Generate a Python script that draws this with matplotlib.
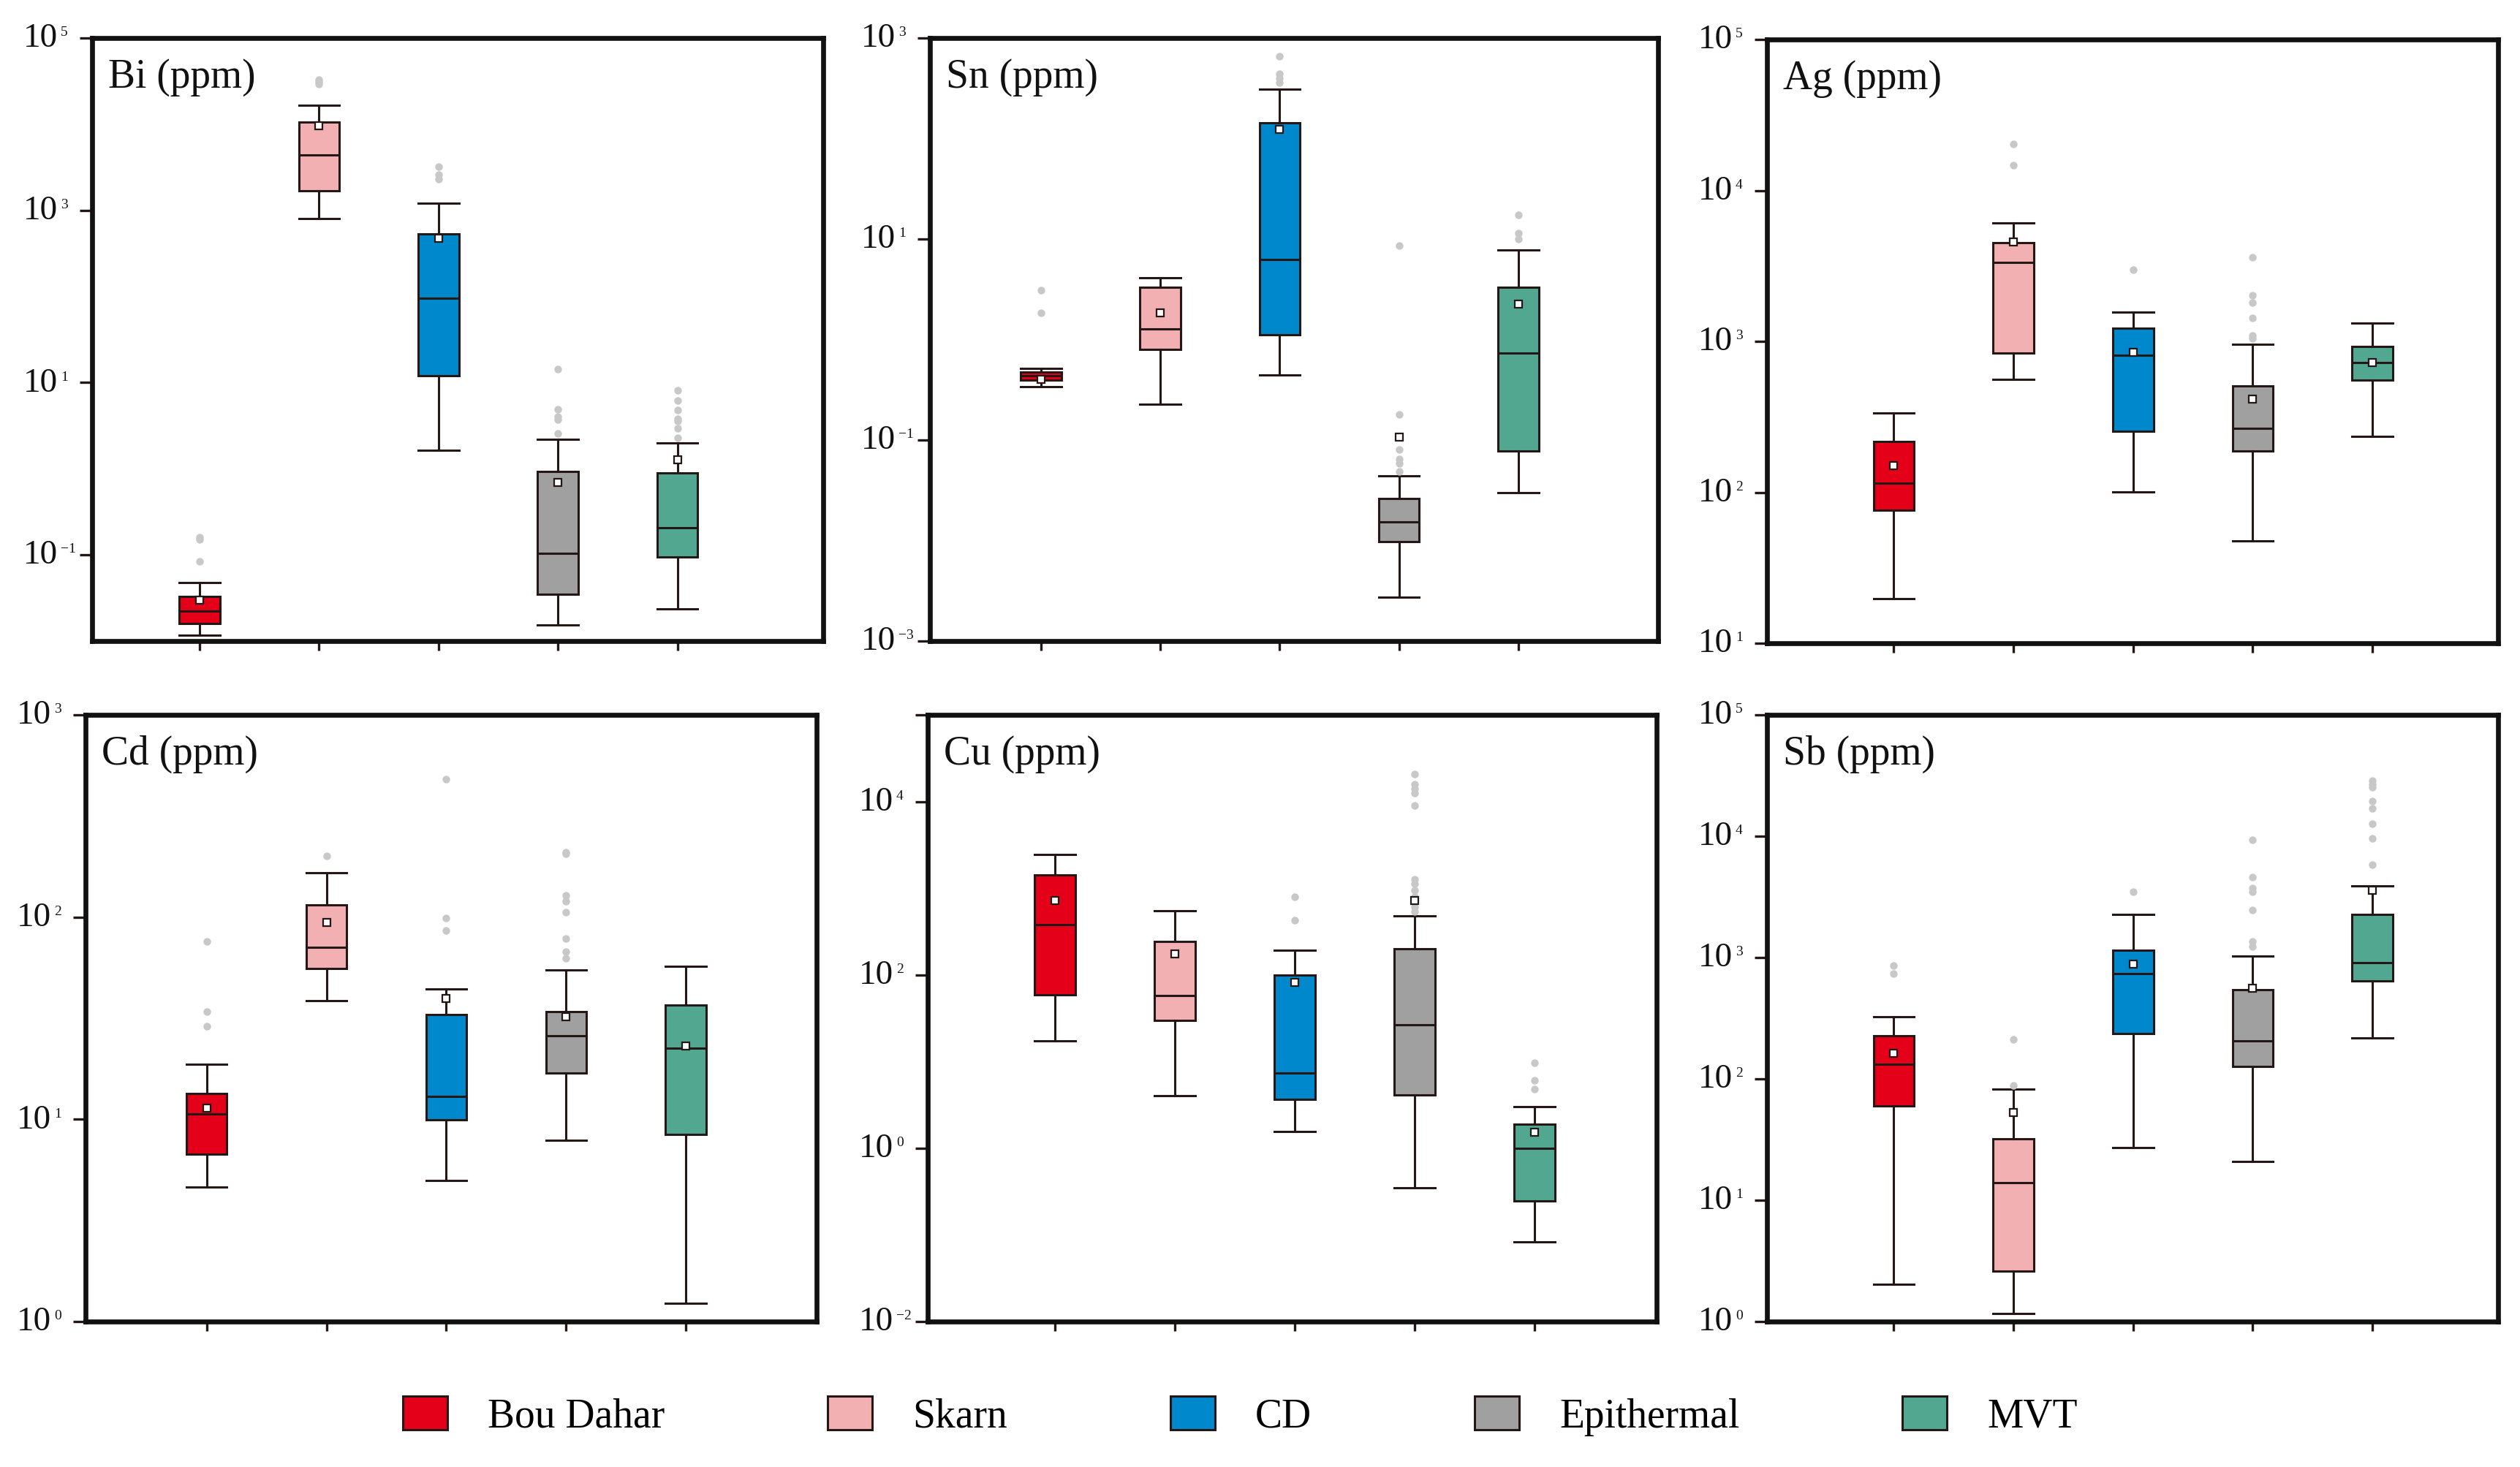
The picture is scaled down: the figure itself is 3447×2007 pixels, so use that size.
import matplotlib
matplotlib.use("Agg")
import matplotlib.pyplot as plt
from matplotlib.patches import Patch
from matplotlib.ticker import FixedLocator, NullFormatter, NullLocator

plt.rcParams['font.family'] = ['Liberation Serif', 'DejaVu Serif']

groups = ["Bou Dahar", "Skarn", "CD", "Epithermal", "MVT"]
colors = ["#E50019", "#F2B0B2", "#0088CD", "#A0A0A0", "#52A790"]
edge = "#231815"

# per group: whisker low, Q1, median, Q3, whisker high, mean  (ppm)
bi_stats = [[0.0118, 0.016, 0.0224, 0.033, 0.048, 0.030],
            [795, 1675, 4350, 10500, 16600, 9660],
            [1.64, 12, 95, 537, 1210, 476],
            [0.0155, 0.035, 0.105, 0.925, 2.19, 0.69],
            [0.0238, 0.0946, 0.205, 0.89, 1.99, 1.28]]
bi_fliers = [[0.16, 0.15, 0.084], [33000, 31000, 29000], [3210, 2570, 2300],
             [14.2, 4.93, 4.03, 3.7, 2.57], [8.17, 6.24, 4.76, 3.8, 3.6, 2.97, 2.3]]

sn_stats = [[0.339, 0.394, 0.438, 0.473, 0.516, 0.40],
            [0.229, 0.80, 1.27, 3.31, 4.1, 1.85],
            [0.447, 1.12, 6.3, 144, 309, 123],
            [0.00274, 0.0097, 0.0154, 0.0264, 0.0443, 0.107],
            [0.0298, 0.078, 0.729, 3.29, 7.79, 2.26]]
sn_fliers = [[3.1, 1.83], [], [660, 443, 400, 363],
             [8.66, 0.181, 0.081, 0.0646, 0.0589, 0.049], [17.4, 11.5, 10.0]]

ag_stats = [[19.8, 76.4, 115, 218, 335, 150],
            [562, 841, 3325, 4490, 6110, 4570],
            [100.7, 255, 810, 1227, 1555, 847],
            [47.9, 187, 264, 508, 955, 414],
            [235, 555, 722, 920, 1325, 722]]
ag_fliers = [[], [20300, 14700], [2985], [3594, 2023, 1811, 1422, 1098, 1047], []]

cd_stats = [[4.64, 6.7, 10.6, 13.4, 18.7, 11.4],
            [38.7, 55.5, 70.8, 114.7, 166, 93.8],
            [4.99, 9.93, 13, 33, 44, 39.7],
            [7.85, 16.9, 25.8, 34, 54.7, 32.1],
            [1.23, 8.39, 22.4, 36.8, 56.9, 23]]
cd_fliers = [[76, 34, 28.8], [200], [479, 98.8, 85.7],
             [209, 205, 128, 119.7, 105.7, 78.2, 67.5, 62.5], []]

cu_stats = [[17.3, 58.3, 380, 1432, 2430, 722],
            [4.07, 30, 57.7, 245, 546, 175],
            [1.57, 3.68, 7.3, 100, 194, 81.6],
            [0.347, 4.12, 26.5, 200, 476, 715],
            [0.0836, 0.245, 1.0, 1.9, 3.04, 1.53]]
cu_fliers = [[], [], [798, 426],
             [20700, 15700, 14000, 12500, 8940, 1258, 1125, 946, 798, 602, 537],
             [9.66, 6.03, 4.82]]

sb_stats = [[2.03, 59.6, 132, 226, 323, 162],
            [1.17, 2.62, 13.9, 32, 82.6, 52.8],
            [27.3, 236.6, 733, 1153, 2256, 888],
            [21, 127, 205, 542, 1023, 559],
            [217, 645, 908, 2256, 3906, 3606]]
sb_fliers = [[859, 733], [211, 88.7], [3467],
             [9370, 4580, 3750, 3467, 2478, 1352, 1230],
             [28600, 26900, 25400, 19500, 17000, 12600, 9610, 5820]]

titles = ["Bi (ppm)", "Sn (ppm)", "Ag (ppm)", "Cd (ppm)", "Cu (ppm)", "Sb (ppm)"]
all_stats = [bi_stats, sn_stats, ag_stats, cd_stats, cu_stats, sb_stats]
all_fliers = [bi_fliers, sn_fliers, ag_fliers, cd_fliers, cu_fliers, sb_fliers]
# y limits as powers of ten, labelled exponents
ylims = [(-2, 5), (-3, 3), (1, 5), (0, 3), (-2, 5), (0, 5)]
ylabels = [[-1, 1, 3, 5], [-3, -1, 1, 3], [1, 2, 3, 4, 5],
           [0, 1, 2, 3], [-2, 0, 2, 4], [0, 1, 2, 3, 4, 5]]
extra_ticks = [[], [], [], [], [5], []]

W, H = 3448, 2008
# axes boxes in pixels: left, right, top, bottom
boxes = [(126, 1126, 53, 878), (1272, 2268, 53, 878), (2417, 3417, 55, 881),
         (117, 1117, 979, 1809), (1269, 2266, 979, 1809), (2417, 3417, 979, 1809)]
xlims = [(0.10, 6.22), (0.07, 6.17), (-0.06, 6.05),
         (-0.01, 6.09), (-0.06, 6.02), (-0.06, 6.05)]

fig = plt.figure(figsize=(W / 100, H / 100), dpi=100)

for k in range(6):
    l, r, t, b = boxes[k]
    ax = fig.add_axes([l / W, 1 - b / H, (r - l) / W, (b - t) / H])
    stats = []
    for g in range(5):
        s = all_stats[k][g]
        stats.append(dict(whislo=s[0], q1=s[1], med=s[2], q3=s[3], whishi=s[4],
                          mean=s[5], fliers=all_fliers[k][g]))
    art = ax.bxp(stats, positions=[1, 2, 3, 4, 5], widths=0.34, capwidths=0.34,
                 patch_artist=True, showmeans=True,
                 boxprops=dict(edgecolor=edge, linewidth=2.2),
                 whiskerprops=dict(color=edge, linewidth=2.2),
                 capprops=dict(color=edge, linewidth=2.2),
                 medianprops=dict(color=edge, linewidth=2.2),
                 meanprops=dict(marker='s', markerfacecolor='white',
                                markeredgecolor=edge, markersize=7,
                                markeredgewidth=1.6),
                 flierprops=dict(marker='o', markerfacecolor='#C8C8C8',
                                 markeredgecolor='none', markersize=7.5))
    for patch, c in zip(art['boxes'], colors):
        patch.set_facecolor(c)

    ax.set_yscale('log')
    lo, hi = ylims[k]
    ax.set_ylim(10.0 ** lo, 10.0 ** hi)
    ax.set_xlim(*xlims[k])
    ticks = [10.0 ** e for e in ylabels[k] + extra_ticks[k]]
    ax.yaxis.set_major_locator(FixedLocator(ticks))
    ax.yaxis.set_major_formatter(NullFormatter())
    ax.yaxis.set_minor_locator(NullLocator())
    ax.set_xticks([1, 2, 3, 4, 5])
    ax.set_xticklabels([])
    ax.tick_params(axis='y', direction='out', length=12, width=2.4, color=edge)
    ax.tick_params(axis='x', direction='out', length=9, width=2.4, color=edge)
    for sp in ax.spines.values():
        sp.set_linewidth(4.8)
        sp.set_color('#111111')

    # "10" with a small raised exponent, as in the original
    for e in ylabels[k]:
        ax.annotate("10", xy=(0, 10.0 ** e), xycoords=('axes fraction', 'data'),
                    xytext=(-34, 0), textcoords='offset points',
                    ha='right', va='center', fontsize=34, color='#111111')
        ax.annotate(str(e).replace('-', '\u2212'), xy=(0, 10.0 ** e),
                    xycoords=('axes fraction', 'data'),
                    xytext=(-31, 12), textcoords='offset points',
                    ha='left', va='top', fontsize=14, color='#111111')

    ax.text(0.022, 0.919, titles[k], transform=ax.transAxes, fontsize=40,
            ha='left', va='baseline', color='#111111')

handles = [Patch(facecolor=c, edgecolor=edge, linewidth=2.2) for c in colors]
fig.legend(handles, groups, loc='center', bbox_to_anchor=(0.492, 0.035),
           ncol=5, frameon=False, fontsize=40, handlelength=1.1, handleheight=0.9,
           handletextpad=1.0, columnspacing=4.0)

fig.savefig("out.png", dpi=100)
